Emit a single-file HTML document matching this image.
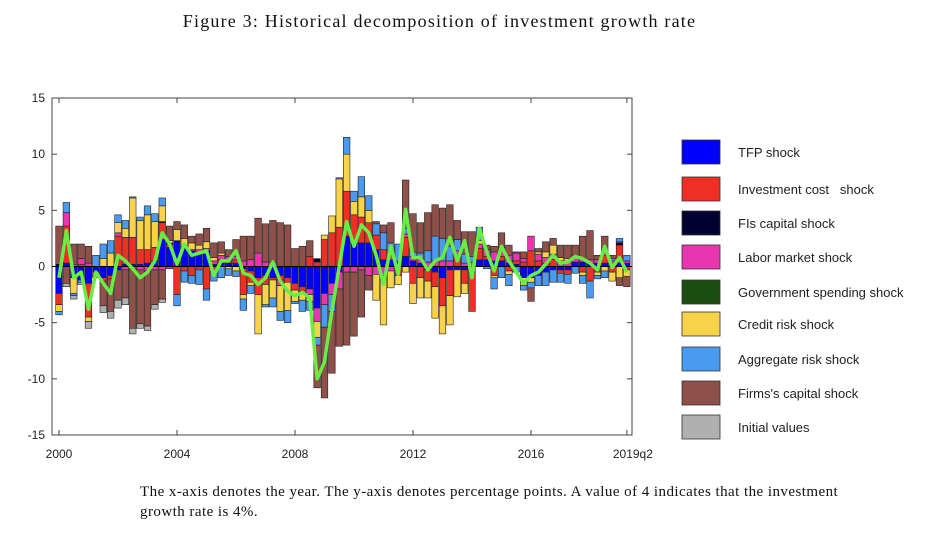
<!DOCTYPE html>
<html><head><meta charset="utf-8"><style>
body{margin:0;background:#fff;width:925px;height:557px;overflow:hidden;position:relative;font-family:"Liberation Sans",sans-serif}
.title{position:absolute;top:11px;left:-23px;width:925px;text-align:center;font-family:"Liberation Serif",serif;font-size:18px;letter-spacing:1.2px;color:#111}
.cap{position:absolute;left:140px;top:482px;width:760px;font-family:"Liberation Serif",serif;font-size:15px;letter-spacing:0.45px;line-height:20px;color:#111}
</style></head><body>
<div class="title">Figure 3: Historical decomposition of investment growth rate</div>
<svg id="chart" width="925" height="557" style="position:absolute;left:0;top:0"></svg>
<div class="cap">The x-axis denotes the year. The y-axis denotes percentage points. A value of 4 indicates that the investment<br>growth rate is 4%.</div>
<script>
const seriesNames=["TFP shock","Investment cost   shock","FIs capital shock","Labor market shock","Government spending shock","Credit risk shock","Aggregate risk shock","Firms's capital shock","Initial values"];
const seriesColors=["#0000ff","#ee3024","#000033","#e835b0","#1a4d0f","#f8d34a","#4a9af0","#8e5048","#b0b0b0"];
const tfp=[-2.4,0.3,-1,-1.2,-1.5,-0.5,-1,-0.8,-0.3,0.2,0.2,0.2,0.3,0.5,2.4,1.7,2.2,1.6,1.4,1.3,1.4,0.2,0.3,0.3,0.3,
-0.2,-0.4,-1,-0.8,-1,-0.8,-1,-1.5,-1.8,-2,-3.7,-2.4,-1.5,-0.5,2.7,2.1,2.1,2.1,1.5,0.6,0.6,0.4,0.9,0.5,0.3,
-0.3,-0.5,-1,-0.3,-0.3,-0.3,-0.6,0.6,0.6,0.5,0.5,0.3,0.2,-1,-1,-0.8,-0.5,-0.3,-0.3,-0.3,0.4,0.4,0.3,0.3,0.3,0.3,0.3,0.3];
const invCost=[-1,3.3,0,0.2,-3,0,-0.3,-0.3,2.7,2.4,2.4,1.3,1.2,1.2,1.5,0.3,-2.5,-0.4,-0.8,-0.3,-2,-0.5,0.3,0.2,0.3,
-2.3,-1,-1.5,-0.8,-0.2,-0.4,-0.4,-0.6,-0.4,0.9,0.4,2.4,3,3.5,4,2.5,2.3,1.8,1.3,0.9,0.6,-0.8,1.7,-1.5,-1,
-1,-1.3,-2.5,-2.3,1,-1.2,-3.4,1,0.3,-0.8,0.4,-0.4,0.3,0.4,1.4,0.5,0.3,0.6,-0.3,-0.4,0,-0.5,-1.3,-0.5,0.7,-0.5,1.6,-0.3];
const fisCap=[0.2,0,0,0,0,0,0,0,0,0,0,0,0,0,0.1,0.1,0.1,0,0,0,0,0,0,0,0,
0,0,0,0,0,0,0,0,0,0,0.3,0,0,0,0,0,0,0,0,0,0,0,0,0,0,
0,0,0,0,0,0,0,0,0,0,0,0,0,0,0,0,0,0,0,0,0,0,0,0,0,0,0.2,0];
const labor=[0,1.2,0.2,0.5,0.3,-0.3,0,0,0.3,-0.3,-0.2,-0.3,-0.4,-0.3,-0.3,-0.2,0,0.2,0.1,0.2,0.2,0.3,0.4,0.4,0.3,
0.5,0.6,1.2,0.4,0.4,-0.5,0,0,0,-0.5,-1.2,-1,-1,-1.5,-0.5,-0.5,-0.3,-0.8,-0.7,-0.8,-0.4,0.1,0.3,0.4,0.4,
0.4,0.5,0.5,0.5,0.4,0.3,0.4,0.4,0.6,0.8,0.8,0.7,0.7,0.3,1.3,0.6,0.5,0.5,0.5,0.5,0.4,0.3,0.3,0.3,0.4,0.2,0.1,0.2];
const govSpend=new Array(78).fill(0);
const credit=[-0.6,0,-1.4,0,-0.4,0,0.7,1.2,0.9,0.8,3.5,2.6,3.1,2.3,1.4,0.2,1,0.7,0.6,0.4,0.6,0.3,0.2,-0.2,-0.4,
-0.4,-0.3,-3.5,-1.8,-1.6,-2.3,-2.5,-1,-0.8,-0.6,-1.4,0.4,1.5,4.3,3.3,1.2,1.8,1.1,-2.3,-4.4,-1.5,-0.8,-0.5,-1.8,-1.8,
-1.5,-2.8,-2.5,-2.6,-2.4,-0.9,0,0.3,0,-0.2,0,-0.3,0,-0.7,-0.4,0.2,0.5,0.8,0.3,0.2,0.2,-0.3,0,-0.3,-0.4,-0.8,-1,-0.6];
const aggRisk=[-0.3,0.9,-0.2,-0.2,0,1,1.3,1.1,0.7,0.7,0.1,0.3,0.8,0.7,0.7,0,-1,-1,-0.7,-1.3,-1,-0.8,-1,-0.6,-0.5,
-1,-0.7,0,-0.2,-0.8,-0.8,-1.1,-0.2,-1,-0.8,-0.7,-2,-1.5,0.1,1.5,0.9,1.8,1.3,1,1.5,0.9,1.5,0.5,0.4,0.5,
1,2.2,2,1.3,1,0.8,0.5,1.2,-0.2,-1,-1,-1,-0.5,-0.4,-0.5,-0.9,-1.2,-1.1,-0.8,-0.8,-0.6,-0.7,-1.5,-0.3,-0.6,0.2,0.3,0.5];
const firmsCap=[3.4,-1.5,1.8,1.3,1.5,-0.2,-2.2,-2.9,-2.7,-2.5,-5.3,-4.8,-4.9,-3.1,-2.6,1.3,0.7,1.2,0.6,1,1.2,1.3,1,0.6,1.5,
2.2,2.1,3.1,3.4,3.7,3.9,3.7,1.6,1.8,1.4,-3.8,-6.3,-5.5,-5.1,-6.5,-5.7,-4.2,-1.3,0.2,0.7,1.8,0,4.3,3.4,2.7,
3.4,2.8,2.7,3.7,1.7,2,2.2,0,0.4,0.5,1.3,0.9,0.1,0.6,-1.2,0.3,0.9,0.6,1.1,1.2,0.9,2,2.6,0.4,1.3,0.3,-0.7,-0.9];
const initVals=[0,-0.3,-0.3,-0.2,-0.6,0,-0.6,-0.6,-0.7,-0.6,-0.5,-0.4,-0.4,-0.4,-0.3,0,0,0,0,0,0,0,0,0,0,
0,0,0,0,0,0,0,0,0,0,0,0,0,0,0,0,0,0,0,0,0,0,0,0,0,0,0,0,0,0,0,0,0,0,0,0,0,0,0,0,0,0,0,0,0,0,0,0,0,0,0,0,0];
const growth=[-1,3.2,-1,-0.5,-3.8,-0.5,-1.5,-2.4,1,0.5,-0.2,-1,-0.5,0.5,3,2,0.2,2,1,1.2,1.4,-0.8,0.5,0.5,1.4,
-0.6,-0.8,-1.6,-1,0.4,-1.3,-2.2,-2.6,-2.3,-2.8,-10,-8.5,-4,0,4,1.8,3.7,3,1,-1.6,1.8,-0.7,5.1,0.8,0.8,
-0.3,0.5,0.8,2.6,0.5,2.3,-1,3.4,1.3,-0.4,1.8,0.5,-0.5,-1.5,-0.8,-0.5,0.2,1,0.3,0.4,0.9,0.7,0.3,-0.3,1.8,-0.1,0.8,-0.5];
const yTicks=[15,10,5,0,-5,-10,-15];
const xTickLabels=["2000","2004","2008","2012","2016","2019q2"];
const xTickIdx=[0,16,32,48,64,77];

const series=[tfp,invCost,fisCap,labor,govSpend,credit,aggRisk,firmsCap,initVals];
const NS="http://www.w3.org/2000/svg";
const svg=document.getElementById('chart');
const L=52,R=632,T=98,B=435;
const yScale=v=>266.5-v*(B-T)/30;
const xScale=i=>59+i*7.375;
function mk(tag,attrs){const e=document.createElementNS(NS,tag);for(const k in attrs)e.setAttribute(k,attrs[k]);svg.appendChild(e);return e;}

const box=mk('rect',{x:L,y:T,width:R-L,height:B-T,fill:'#fff',stroke:'#444','stroke-width':1});



yTicks.forEach(v=>{
  const y=yScale(v);
  const t1=mk('line',{x1:L,x2:L+5,y1:y,y2:y,stroke:'#444'});
  
  
  const t2=mk('line',{x1:R-5,x2:R,y1:y,y2:y,stroke:'#444'});
  
  
  const tx=mk('text',{x:45,y:y+4,'text-anchor':'end','font-size':12,fill:'#222'});
  tx.textContent=v;
  
  
});
xTickIdx.forEach((q,k)=>{
  const x=xScale(q);
  const t=mk('line',{x1:x,x2:x,y1:B,y2:B-5,stroke:'#444'});
  
  
  const t2=mk('line',{x1:x,x2:x,y1:T,y2:T+5,stroke:'#444'});
  
  
  const tx=mk('text',{x:k==5?x+6:x,y:458,'text-anchor':'middle','font-size':12,fill:'#222'});
  tx.textContent=xTickLabels[k];
  
  
});

const bw=6.6;
for(let i=0;i<growth.length;i++){
  let pos=0,neg=0;
  series.forEach((s,si)=>{
    const v=s[i];if(!v)return;
    let y0,y1;
    if(v>0){y0=pos;y1=pos+v;pos=y1;}else{y0=neg;y1=neg+v;neg=y1;}
    const top=yScale(Math.max(y0,y1)),bot=yScale(Math.min(y0,y1));
    const r=mk('rect',{x:xScale(i)-bw/2,y:top,width:bw,height:bot-top,fill:seriesColors[si],stroke:'#222','stroke-width':0.6});
    
    
  });
}
const zl=mk('line',{x1:L,x2:R,y1:yScale(0),y2:yScale(0),stroke:'#000','stroke-width':1});


const pts=growth.map((v,i)=>xScale(i)+','+yScale(v)).join(' ');
const pl=mk('polyline',{points:pts,fill:'none',stroke:'#66ee44','stroke-width':3.5,'stroke-linejoin':'round'});



const legY=[152,189,223,257,292,324,359,393,427];
seriesNames.forEach((n,i)=>{
  const r=mk('rect',{x:682,y:legY[i]-12,width:38,height:24,fill:seriesColors[i],stroke:'#333','stroke-width':0.8});
  
  
  const t=mk('text',{x:738,y:legY[i]+5,'font-size':13,fill:'#222'});
  t.setAttribute('xml:space','preserve');
  t.style.whiteSpace='pre';
  t.textContent=n;
  
  
});
</script>
</body></html>
